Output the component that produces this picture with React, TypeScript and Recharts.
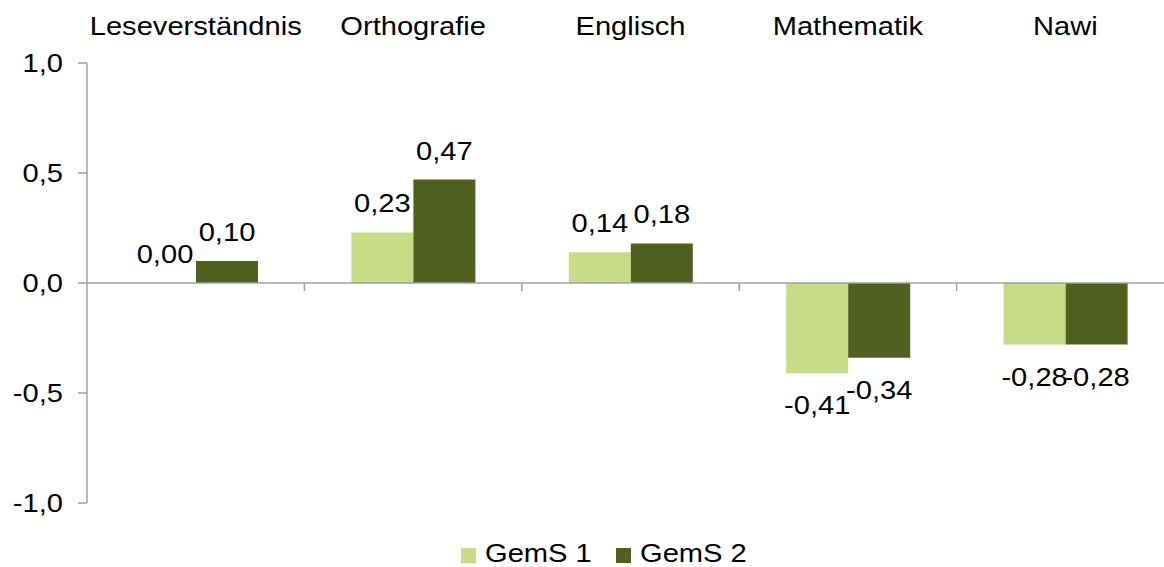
import { Bar, BarChart, LabelList, Legend, ReferenceLine, XAxis, YAxis } from "recharts"

const subjects = ["Leseverständnis", "Orthografie", "Englisch", "Mathematik", "Nawi"]
const gems1 = [0.0, 0.23, 0.14, -0.41, -0.28]
const gems2 = [0.1, 0.47, 0.18, -0.34, -0.28]
const yTicks = [-1, -0.5, 0, 0.5, 1]

const data = subjects.map((name, i) => ({ name, gems1: gems1[i], gems2: gems2[i] }))

const LIGHT = "#c8dc87"
const DARK = "#51601f"
const AXIS = "#a0a0a0"
const FONT = "'Liberation Sans', Arial, sans-serif"
const FS = 26
const SX = 1.12 // the reference text is a bit stretched sideways

const comma = (v: number, d: number) => v.toFixed(d).replace(".", ",")

function Wide({ x, y, anchor, children }: any) {
  return (
    <text
      transform={`translate(${x},${y}) scale(${SX},1)`}
      textAnchor={anchor}
      fontSize={FS}
      fontFamily={FONT}
      fill="#000"
    >
      {children}
    </text>
  )
}

function ValueLabel(props: any) {
  const vb = props.viewBox ?? props
  const { x, y, width, height } = vb
  const v = Number(props.value)
  const top = Math.min(y, y + height)
  const bottom = Math.max(y, y + height)
  const ty = v >= 0 ? top - 20 : bottom + 41
  return <Wide x={x + width / 2} y={ty} anchor="middle">{comma(v, 2)}</Wide>
}

function CategoryTick(props: any) {
  const { x, y, payload } = props
  return <Wide x={x} y={y} anchor="middle">{payload.value}</Wide>
}

function ValueTick(props: any) {
  const { x, y, payload } = props
  return <Wide x={x} y={y + 9} anchor="end">{comma(payload.value, 1)}</Wide>
}

// zero line with tick marks between the categories
function ZeroLine(props: any) {
  const { x1, y1, x2, y2 } = props
  const step = (x2 - x1) / subjects.length
  return (
    <g>
      <line x1={x1} y1={y1} x2={x2} y2={y2} stroke={AXIS} strokeWidth={1.5} />
      {subjects.slice(1).map((_, i) => (
        <line key={i} x1={x1 + step * (i + 1)} x2={x1 + step * (i + 1)} y1={y1} y2={y1 + 8} stroke={AXIS} strokeWidth={1.5} />
      ))}
    </g>
  )
}

function LegendBox() {
  const items = [
    { label: "GemS 1", color: LIGHT, left: 0 },
    { label: "GemS 2", color: DARK, left: 155 },
  ]
  return (
    <div style={{ position: "relative", width: 300, height: 20, fontFamily: FONT, fontSize: FS, whiteSpace: "nowrap" }}>
      {items.map((it) => (
        <div key={it.label} style={{ position: "absolute", left: it.left, top: 0 }}>
          <span style={{ position: "absolute", left: 0, top: 4, width: 15, height: 15, background: it.color }} />
          <span
            style={{
              position: "absolute",
              left: 24,
              top: -3,
              lineHeight: "24px",
              display: "inline-block",
              transform: `scaleX(${SX})`,
              transformOrigin: "left",
            }}
          >
            {it.label}
          </span>
        </div>
      ))}
    </div>
  )
}

export default function App() {
  return (
    <div style={{ position: "fixed", left: 0, top: 0, width: 1164, height: 567, overflow: "hidden", background: "#fff" }}>
      <BarChart
        width={1174}
        height={567}
        data={data}
        margin={{ top: 0, right: 0, bottom: 44, left: 0 }}
        barGap={0}
        barSize={62}
      >
        <XAxis
          dataKey="name"
          orientation="top"
          height={63}
          axisLine={false}
          tickLine={false}
          tickSize={0}
          tickMargin={28}
          interval={0}
          tick={<CategoryTick />}
        />
        <YAxis
          width={87}
          domain={[-1, 1]}
          ticks={yTicks}
          interval={0}
          stroke={AXIS}
          strokeWidth={1.5}
          tickSize={9}
          tickMargin={15}
          tick={<ValueTick />}
        />
        <ReferenceLine y={0} shape={ZeroLine} ifOverflow="visible" />
        <Legend
          verticalAlign="bottom"
          content={() => <LegendBox />}
          wrapperStyle={{ top: 544, left: 461, bottom: "auto", width: 300, height: 20 }}
        />
        <Bar
          dataKey="gems1"
          name="GemS 1"
          fill={LIGHT}
          minPointSize={(v: number) => (v === 0 ? 0.01 : 0)}
          isAnimationActive={false}
        >
          <LabelList dataKey="gems1" content={ValueLabel} />
        </Bar>
        <Bar dataKey="gems2" name="GemS 2" fill={DARK} isAnimationActive={false}>
          <LabelList dataKey="gems2" content={ValueLabel} />
        </Bar>
      </BarChart>
    </div>
  )
}
